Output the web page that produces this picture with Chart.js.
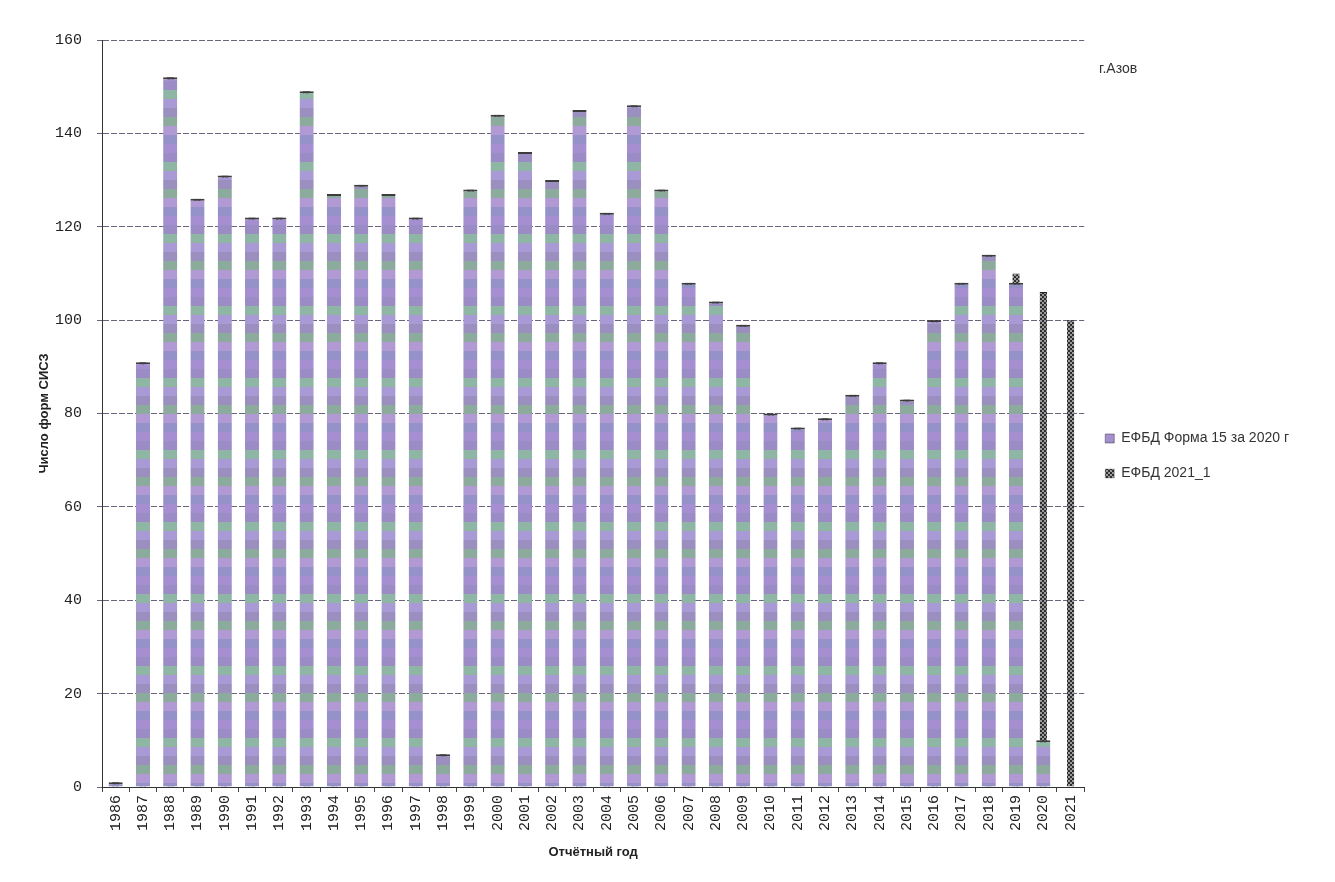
<!DOCTYPE html>
<html lang="ru">
<head>
<meta charset="utf-8">
<title>г.Азов</title>
<script src="https://cdn.jsdelivr.net/npm/chart.js@4.4.1/dist/chart.umd.min.js"></script>
<style>
    html, body { margin: 0; padding: 0; background: #fff; }
    #wrap { position: relative; width: 1335px; height: 882px; }
    #place {
        position: absolute; left: 1099px; top: 60px;
        font: 14px "Liberation Sans", sans-serif; color: #333;
    }
</style>
</head>
<body>
<div id="wrap">
    <canvas id="chart" width="1335" height="882"></canvas>
    <div id="place">г.Азов</div>
</div>
<script>
// Years on the x axis
const years = [
    "1986", "1987", "1988", "1989", "1990", "1991", "1992", "1993", "1994",
    "1995", "1996", "1997", "1998", "1999", "2000", "2001", "2002", "2003",
    "2004", "2005", "2006", "2007", "2008", "2009", "2010", "2011", "2012",
    "2013", "2014", "2015", "2016", "2017", "2018", "2019", "2020", "2021"
];

// ЕФБД Форма 15 за 2020 г
const form15 = [
    1, 91, 152, 126, 131, 122, 122, 149, 127,
    129, 127, 122, 7, 128, 144, 136, 130, 145,
    123, 146, 128, 108, 104, 99, 80, 77, 79,
    84, 91, 83, 100, 108, 114, 108, 10, null
];

// ЕФБД 2021_1
const efbd2021 = [
    1, 91, 152, 126, 131, 122, 122, 149, 127,
    129, 127, 122, 7, 128, 144, 136, 130, 145,
    123, 146, 128, 108, 104, 99, 80, 77, 79,
    84, 91, 83, 100, 108, 114, 110, 106, 100
];

const yTicks = [0, 20, 40, 60, 80, 100, 120, 140, 160];

// Striped fill to imitate the scanned printout
function makeStripes(colors, stripe) {
    const c = document.createElement("canvas");
    c.width = 8;
    c.height = colors.length * stripe;
    const g = c.getContext("2d");
    colors.forEach((col, i) => {
        g.fillStyle = col;
        g.fillRect(0, i * stripe, 8, stripe);
    });
    return g.createPattern(c, "repeat");
}

function makeChecker(a, b) {
    const c = document.createElement("canvas");
    c.width = 4;
    c.height = 4;
    const g = c.getContext("2d");
    g.fillStyle = a;
    g.fillRect(0, 0, 4, 4);
    g.fillStyle = b;
    g.fillRect(0, 0, 2, 2);
    g.fillRect(2, 2, 2, 2);
    return g.createPattern(c, "repeat");
}

const ctx = document.getElementById("chart").getContext("2d");
const fillForm15 = makeStripes(
    ["#a58fd0", "#9c8cc6", "#8fb5a4", "#a99ad6", "#9a8fbf", "#8cab9c", "#b19ad4", "#9492c8"], 9);
const fill2021 = makeChecker("#2e2e2e", "#9a9a9a");

new Chart(ctx, {
    type: "bar",
    data: {
        labels: years,
        datasets: [
            {
                label: "ЕФБД Форма 15 за 2020 г",
                data: form15,
                backgroundColor: fillForm15,
                borderColor: "#3c3c3c",
                borderWidth: { top: 2, left: 0, right: 0, bottom: 0 },
                borderSkipped: "start",
                barPercentage: 0.52,
                categoryPercentage: 1,
                grouped: false,
                order: 0
            },
            {
                label: "ЕФБД 2021_1",
                data: efbd2021,
                backgroundColor: fill2021,
                borderColor: "#222",
                borderWidth: { top: 1, left: 0, right: 0, bottom: 0 },
                borderSkipped: "start",
                barPercentage: 0.27,
                categoryPercentage: 1,
                grouped: false,
                order: 1
            }
        ]
    },
    options: {
        responsive: false,
        animation: false,
        layout: { padding: { top: 40, bottom: 10, left: 0, right: 36 } },
        plugins: {
            tooltip: { enabled: false },
            legend: {
                position: "right",
                align: "center",
                labels: {
                    color: "#333",
                    font: { family: "'Liberation Sans', sans-serif", size: 14 },
                    boxWidth: 9,
                    boxHeight: 9,
                    padding: 21
                }
            }
        },
        scales: {
            x: {
                afterFit: (scale) => { scale.height = 85; },
                grid: { display: true, drawOnChartArea: false, tickLength: 5, color: "#444" },
                border: { color: "#333", width: 1 },
                ticks: {
                    minRotation: 90,
                    maxRotation: 90,
                    autoSkip: false,
                    padding: 3,
                    color: "#222",
                    font: { family: "'Liberation Mono', monospace", size: 15 }
                },
                title: {
                    display: true,
                    text: "Отчётный год",
                    color: "#222",
                    font: { family: "'Liberation Sans', sans-serif", size: 13, weight: "bold" },
                    padding: { top: 0, bottom: 12 }
                }
            },
            y: {
                min: 0,
                max: 160,
                afterFit: (scale) => { scale.width = 102; },
                afterBuildTicks: (scale) => { scale.ticks = yTicks.map(v => ({ value: v })); },
                grid: { color: "rgba(70,60,90,0.8)", tickLength: 5, lineWidth: 1 },
                border: { color: "#333", width: 1, dash: [6, 2] },
                ticks: {
                    padding: 15,
                    color: "#222",
                    font: { family: "'Liberation Mono', monospace", size: 15 }
                },
                title: {
                    display: true,
                    text: "Число форм СИСЗ",
                    color: "#222",
                    font: { family: "'Liberation Sans', sans-serif", size: 13, weight: "bold" },
                    padding: { top: 37, bottom: 0 }
                }
            }
        }
    }
});
</script>
</body>
</html>
